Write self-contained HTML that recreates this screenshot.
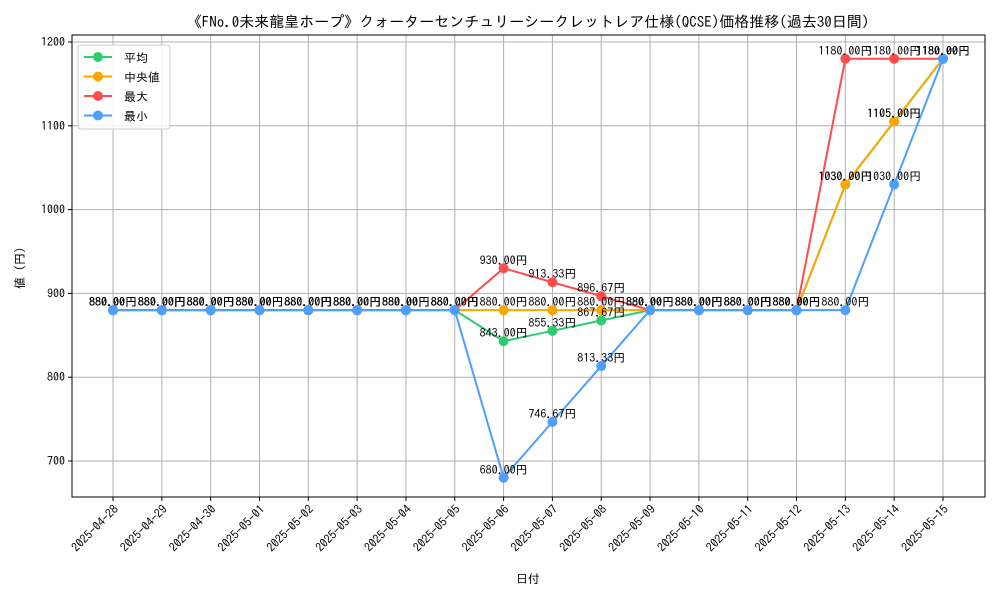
<!DOCTYPE html>
<html><head><meta charset="utf-8">
<style>
html,body{margin:0;padding:0;background:#fff;}
svg text{font-family:"IPAGothic","Noto Sans CJK JP",monospace;}
</style></head>
<body>
<svg id="chart" width="1000" height="600" xmlns="http://www.w3.org/2000/svg">
<rect width="1000" height="600" fill="#fff"/>
<text x="528" y="27" font-size="15" text-anchor="middle" fill="#000">《FNo.0未来龍皇ホープ》クォーターセンチュリーシークレットレア仕様(QCSE)価格推移(過去30日間)</text>
<g id="grid"></g>
<g id="axes"></g>
<g id="series"></g>
<g id="labels"></g>
<rect x="72" y="35" width="913" height="462" fill="none" stroke="#000" stroke-width="1"/>
<text x="528" y="583" font-size="12" text-anchor="middle">日付</text>
<text transform="translate(24,268) rotate(-90)" font-size="12" text-anchor="middle">値 (円)</text>
<g>
<rect x="78" y="45" width="92" height="84" rx="3" fill="#fff" fill-opacity="0.85" stroke="#ccc"/>
<g id="legend-items"></g>
</g>
</svg>
<script>
const dates=["2025-04-28","2025-04-29","2025-04-30","2025-05-01","2025-05-02","2025-05-03","2025-05-04","2025-05-05","2025-05-06","2025-05-07","2025-05-08","2025-05-09","2025-05-10","2025-05-11","2025-05-12","2025-05-13","2025-05-14","2025-05-15"];
const avgVals=[880,880,880,880,880,880,880,880,843,855.33,867.67,880,880,880,880,1030,1105,1180];
const medVals=[880,880,880,880,880,880,880,880,880,880,880,880,880,880,880,1030,1105,1180];
const maxVals=[880,880,880,880,880,880,880,880,930,913.33,896.67,880,880,880,880,1180,1180,1180];
const minVals=[880,880,880,880,880,880,880,880,680,746.67,813.33,880,880,880,880,880,1030,1180];
const yTicks=[700,800,900,1000,1100,1200];
const seriesNames=["平均","中央値","最大","最小"];
const NS="http://www.w3.org/2000/svg";
function X(i){return 113+i*(943-113)/(dates.length-1);}
function Y(v){return 461-(v-700)*(461-42)/500;}
function mk(tag,attrs,parent){const e=document.createElementNS(NS,tag);for(const k in attrs)e.setAttribute(k,attrs[k]);parent.appendChild(e);return e;}
const grid=document.getElementById('grid'),axes=document.getElementById('axes'),sg=document.getElementById('series'),lg=document.getElementById('labels');
yTicks.forEach(t=>{
 const l=mk('line',{x1:72,x2:985,y1:Y(t),y2:Y(t),stroke:'#b0b0b0','stroke-width':1},grid);
 
 
 mk('line',{x1:68,x2:72,y1:Y(t),y2:Y(t),stroke:'#000'},axes);
 const tx=mk('text',{x:65,y:Y(t)+4,'font-size':12,'text-anchor':'end'},axes);
 tx.textContent=t;
 
 
});
dates.forEach((d,i)=>{
 const l=mk('line',{x1:X(i),x2:X(i),y1:35,y2:497,stroke:'#b0b0b0','stroke-width':1},grid);
 
 
 mk('line',{x1:X(i),x2:X(i),y1:497,y2:501,stroke:'#000'},axes);
 const tx=mk('text',{transform:`translate(${X(i)+6},${510}) rotate(-45)`,'font-size':12,'text-anchor':'end'},axes);
 tx.textContent=d;
 
 
});
const all=[[avgVals,'#2ecc71','average'],[medVals,'#ffa500','median'],[maxVals,'#ff4d4d','max'],[minVals,'#4d9fff','min']];
all.forEach(([vals,col,nm])=>{
 const g=mk('g',{},sg);
 
 
 const pl=mk('polyline',{points:vals.map((v,i)=>X(i)+','+Y(v)).join(' '),fill:'none',stroke:col,'stroke-width':2},g);
 
 
 vals.forEach((v,i)=>{
  const c=mk('circle',{cx:X(i),cy:Y(v),r:5,fill:col},g);
  
  
  const t=mk('text',{x:X(i),y:Y(v)-4,'font-size':12,'text-anchor':'middle',fill:'#000'},lg);
  t.textContent=v.toFixed(2)+'円';
  
  
 });
});
const li=document.getElementById('legend-items');
all.forEach(([v,col,nm],k)=>{
 const y=57+k*19.5;
 const g=mk('g',{},li);
 
 
 mk('line',{x1:84,x2:112,y1:y,y2:y,stroke:col,'stroke-width':2},g);
 mk('circle',{cx:98,cy:y,r:5,fill:col},g);
 const t=mk('text',{x:124,y:y+5,'font-size':12},g);
 t.textContent=seriesNames[k];
});
</script>
</body></html>
